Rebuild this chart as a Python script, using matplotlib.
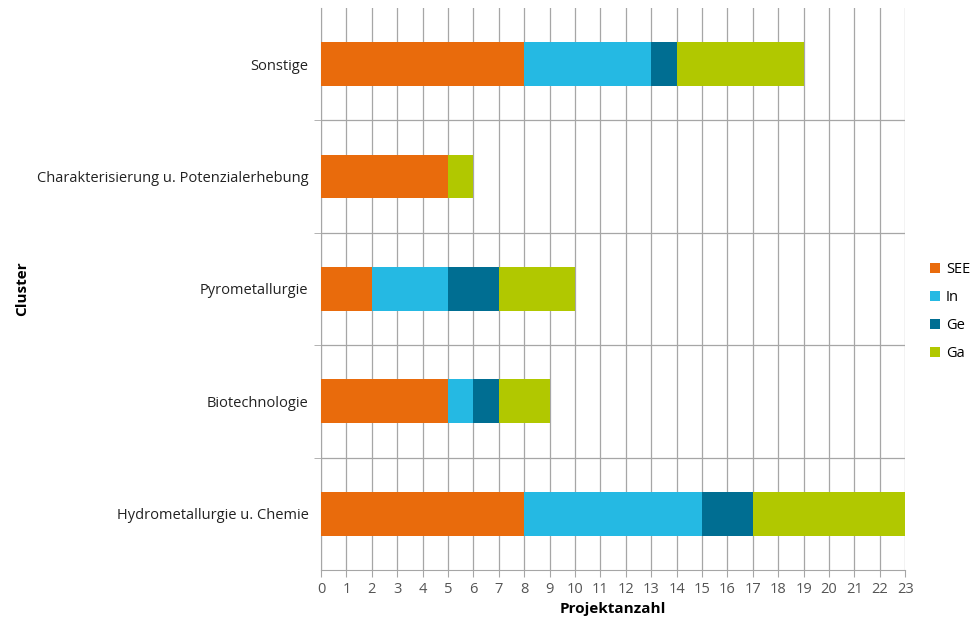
import numpy as np
import matplotlib.pyplot as plt

plt.rcParams['font.family'] = ['Open Sans', 'DejaVu Sans']

# clusters from bottom to top
clusters = ['Hydrometallurgie u. Chemie', 'Biotechnologie', 'Pyrometallurgie',
            'Charakterisierung u. Potenzialerhebung', 'Sonstige']
see = [8, 5, 2, 5, 8]
indium = [7, 1, 3, 0, 5]
ge = [2, 1, 2, 0, 1]
ga = [6, 2, 3, 1, 5]

series = [('SEE', see, '#e96b0c'), ('In', indium, '#25b9e3'),
          ('Ge', ge, '#006e92'), ('Ga', ga, '#b1c800')]

fig = plt.figure(figsize=(9.8, 6.17), dpi=100)
ax = fig.add_axes([0.3276, 0.0762, 0.596, 0.911])

y = np.arange(len(clusters))
left = np.zeros(len(clusters))
for name, vals, col in series:
    ax.barh(y, vals, left=left, height=0.39, color=col, label=name, zorder=3)
    left += np.array(vals)

ax.set_xlim(0, 23)
ax.set_ylim(-0.5, len(clusters) - 0.5)
ax.set_xticks(np.arange(0, 24))
ax.set_yticks(y)
ax.set_yticklabels(clusters)
ax.set_yticks(np.arange(0.5, len(clusters) - 0.5), minor=True)

ax.grid(axis='x', color='#a6a6a6', lw=0.9, zorder=0)
ax.grid(axis='y', which='minor', color='#a6a6a6', lw=0.9, zorder=0)
ax.tick_params(axis='y', which='major', length=0, pad=9, labelsize=10.5, colors='#222222')
ax.tick_params(axis='y', which='minor', length=5, color='#a6a6a6')
ax.tick_params(axis='x', length=5, color='#a6a6a6', labelsize=10.5, labelcolor='#555555')

for s in ['top', 'right']:
    ax.spines[s].set_visible(False)
for s in ['left', 'bottom']:
    ax.spines[s].set_color('#a6a6a6')

ax.set_xlabel('Projektanzahl', fontweight='bold', fontsize=11)
ax.set_ylabel('Cluster', fontweight='bold', fontsize=11)
ax.yaxis.set_label_coords(-0.5, 0.5)

ax.legend(loc='center left', bbox_to_anchor=(1.02, 0.46), frameon=False,
          handlelength=0.7, handleheight=0.7, handletextpad=0.4,
          labelspacing=0.9, fontsize=10.5)

fig.savefig('out.png')
